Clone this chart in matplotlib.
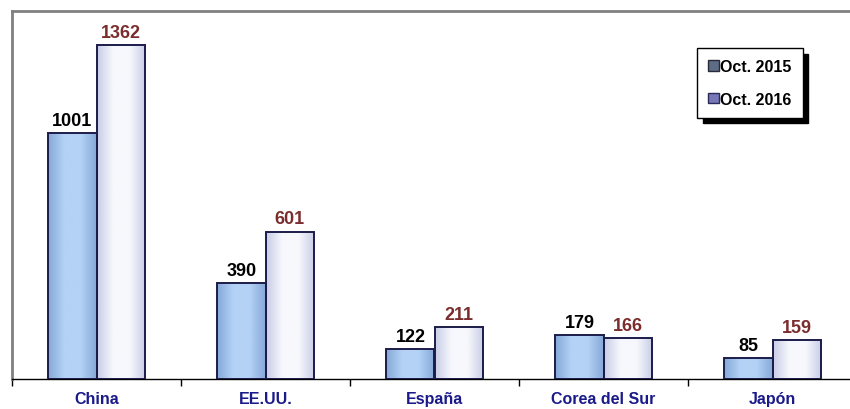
import numpy as np
import matplotlib.pyplot as plt
from matplotlib.patches import Patch
from matplotlib.colors import LinearSegmentedColormap

plt.rcParams['font.family'] = ['Liberation Sans', 'DejaVu Sans']

# ---- datos ----
paises = ['China', 'EE.UU.', 'España', 'Corea del Sur', 'Japón']
oct_2015 = [1001, 390, 122, 179, 85]
oct_2016 = [1362, 601, 211, 166, 159]

fig = plt.figure(figsize=(8.5, 4.1), dpi=100)
ax = fig.add_axes([12 / 850, 30 / 410, 845 / 850, 368 / 410])

x = np.arange(len(paises))
w = 0.285
b1 = ax.bar(x - w / 2, oct_2015, w, color='#a9c9f1', edgecolor='#1c1c4a', linewidth=1.4, zorder=3)
b2 = ax.bar(x + w / 2, oct_2016, w, color='#f2f4fb', edgecolor='#1c1c4a', linewidth=1.4, zorder=3)

# degradado horizontal dentro de cada barra
def gradient(bars, c_edge, c_mid):
    cmap = LinearSegmentedColormap.from_list('g', [c_edge, c_mid, c_mid, c_edge])
    grad = np.linspace(0, 1, 64).reshape(1, -1)
    for b in bars:
        x0, w0, h0 = b.get_x(), b.get_width(), b.get_height()
        im = ax.imshow(grad, cmap=cmap, aspect='auto', extent=(x0, x0 + w0, 0, h0),
                       zorder=3.5, interpolation='bicubic')
        im.set_clip_path(b)
        b.set_zorder(4)
        b.set_facecolor('none')

gradient(b1, '#86a9d8', '#b4d2f6')
gradient(b2, '#c9cde6', '#f7f8fd')

for b, v in zip(b1, oct_2015):
    ax.annotate(str(v), (b.get_x() + b.get_width() / 2, v), xytext=(0, 3),
                textcoords='offset points', ha='center', va='bottom',
                fontsize=13, fontweight='bold', color='black')
for b, v in zip(b2, oct_2016):
    ax.annotate(str(v), (b.get_x() + b.get_width() / 2, v), xytext=(0, 3),
                textcoords='offset points', ha='center', va='bottom',
                fontsize=13, fontweight='bold', color='#7b2c2c')

ax.set_xlim(-0.5, len(paises) - 0.5)
ax.set_ylim(0, 1500)
ax.set_yticks([])
ax.set_xticks(x)
ax.set_xticklabels(paises, fontsize=11.5, fontweight='bold', color='#1a1a8a')
ax.tick_params(axis='x', length=0, pad=9)
ax.set_xticks(np.arange(-0.5, len(paises), 1), minor=True)
ax.tick_params(axis='x', which='minor', length=5, width=1, color='black', direction='out')

for s in ['left', 'top']:
    ax.spines[s].set_color('#808080')
    ax.spines[s].set_linewidth(2)
ax.spines['right'].set_visible(False)
ax.spines['bottom'].set_color('black')
ax.spines['bottom'].set_linewidth(1)

handles = [Patch(facecolor='#5d6d85', edgecolor='#2a2a3a'),
           Patch(facecolor='#7878b8', edgecolor='#2a2a5a')]
leg = ax.legend(handles, ['Oct. 2015', 'Oct. 2016'], loc='upper left',
                bbox_to_anchor=(0.8107, 0.8995), fancybox=False,
                shadow={'ox': 4, 'oy': -4, 'color': 'black', 'alpha': 1},
                prop={'weight': 'bold', 'size': 11.5}, handlelength=0.65,
                handleheight=0.65, handletextpad=0.1, labelspacing=1.1,
                borderpad=0.7, borderaxespad=0, framealpha=1)
leg.get_frame().set_edgecolor('black')
leg.get_frame().set_linewidth(1)

fig.savefig('out.png', dpi=100)
